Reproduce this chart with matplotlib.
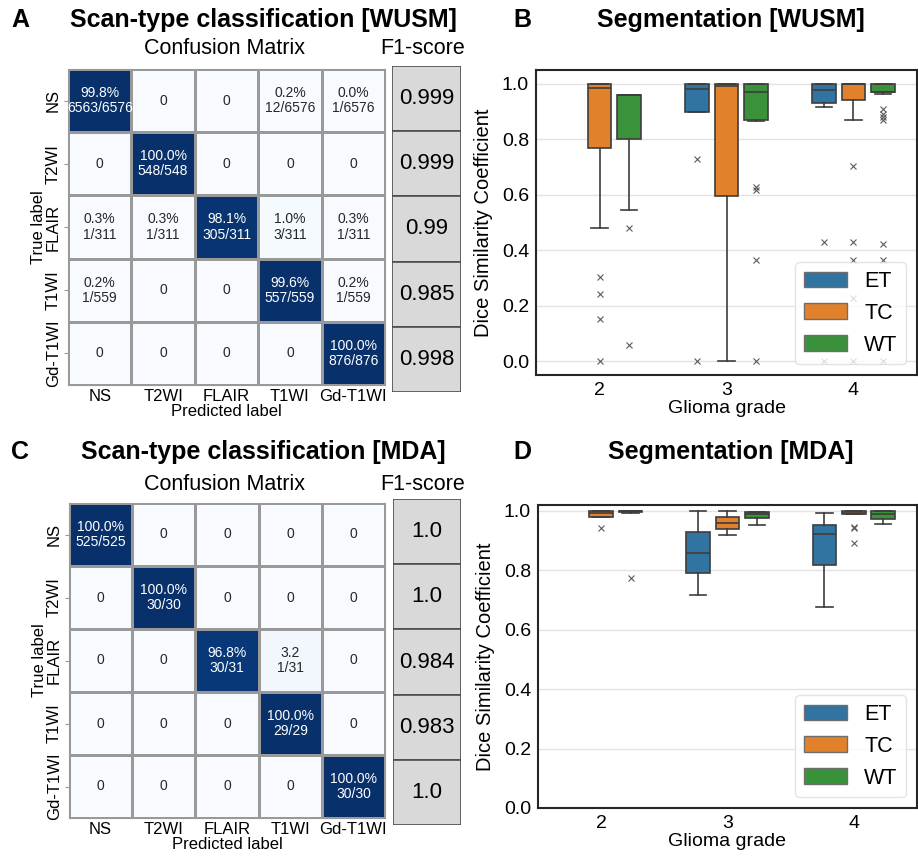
import numpy as np
import matplotlib
matplotlib.use("Agg")
import matplotlib.pyplot as plt
from matplotlib.patches import Patch, Rectangle

plt.rcParams['font.family'] = ['Liberation Sans', 'DejaVu Sans']

# ---- data ----
scan_types = ['NS', 'T2WI', 'FLAIR', 'T1WI', 'Gd-T1WI']

wusm_counts = [[6563, 0, 0, 12, 1],
               [0, 548, 0, 0, 0],
               [1, 1, 305, 3, 1],
               [1, 0, 0, 557, 1],
               [0, 0, 0, 0, 876]]
wusm_f1 = ['0.999', '0.999', '0.99', '0.985', '0.998']

mda_counts = [[525, 0, 0, 0, 0],
              [0, 30, 0, 0, 0],
              [0, 0, 30, 1, 0],
              [0, 0, 0, 29, 0],
              [0, 0, 0, 0, 30]]
mda_f1 = ['1.0', '1.0', '0.984', '0.983', '1.0']
mda_label_override = {(2, 3): '3.2\n1/31'}

grades = ['2', '3', '4']
regions = ['ET', 'TC', 'WT']
region_colors = ['#3274a1', '#e1812c', '#3a923a']

# box stats, rows = grade, cols = ET/TC/WT (None = no data)
wusm_med = [[None, 0.986, 0.960], [0.983, 0.992, 0.971], [0.978, 1.0, 0.972]]
wusm_q1 = [[None, 0.768, 0.802], [0.900, 0.594, 0.870], [0.930, 0.942, 0.969]]
wusm_q3 = [[None, 1.0, 0.960], [1.0, 1.0, 1.0], [1.0, 1.0, 1.0]]
wusm_lo = [[None, 0.481, 0.545], [0.900, 0.0, 0.866], [0.917, 0.868, 0.962]]
wusm_hi = [[None, 1.0, 0.960], [1.0, 1.0, 1.0], [1.0, 1.0, 1.0]]
wusm_fliers = [[[], [0.303, 0.242, 0.151, 0.0], [0.480, 0.059]],
               [[0.730, 0.0], [], [0.627, 0.618, 0.366, 0.0]],
               [[0.430, 0.0], [0.705, 0.430, 0.365, 0.226, 0.0],
                [0.909, 0.892, 0.880, 0.868, 0.423, 0.365, 0.0]]]

mda_med = [[None, 0.993, 1.0], [0.860, 0.961, 0.990], [0.924, 0.993, 0.991]]
mda_q1 = [[None, 0.980, 0.998], [0.790, 0.940, 0.975], [0.819, 0.989, 0.974]]
mda_q3 = [[None, 1.0, 1.0], [0.929, 0.980, 0.998], [0.951, 0.999, 0.999]]
mda_lo = [[None, 0.980, 0.993], [0.718, 0.918, 0.954], [0.675, 0.989, 0.957]]
mda_hi = [[None, 1.0, 1.0], [0.999, 0.999, 0.998], [0.994, 0.999, 0.999]]
mda_fliers = [[[], [0.943], [0.775]],
              [[], [], []],
              [[], [0.946, 0.943, 0.893], []]]


def draw_matrix(ax, counts, override=None):
    counts = np.array(counts, dtype=float)
    rows = counts.sum(axis=1, keepdims=True)
    frac = counts / rows
    ax.pcolormesh(frac, cmap='Blues', vmin=0, vmax=1,
                  edgecolors='#999999', linewidth=0.8)
    ax.set_xlim(0, 5)
    ax.set_ylim(5, 0)
    for i in range(5):
        for j in range(5):
            c = counts[i, j]
            if override and (i, j) in override:
                txt = override[(i, j)]
            elif c == 0:
                txt = '0'
            else:
                txt = '%.1f%%\n%d/%d' % (frac[i, j] * 100, c, rows[i, 0])
            col = 'white' if frac[i, j] > 0.5 else '#262626'
            ax.text(j + 0.5, i + 0.5, txt, ha='center', va='center',
                    fontsize=10, color=col, linespacing=1.1)
    ax.set_xticks(np.arange(5) + 0.5, scan_types, fontsize=12)
    ax.set_yticks(np.arange(5) + 0.5, scan_types, fontsize=12,
                  rotation=90, va='center')
    ax.tick_params(axis='x', length=0, pad=3)
    ax.tick_params(axis='y', length=3, pad=2, color='#999999')
    ax.set_xlabel('Predicted label', fontsize=12, labelpad=0)
    ax.set_ylabel('True label', fontsize=12, labelpad=0)
    for s in ax.spines.values():
        s.set_color('#999999')
        s.set_linewidth(0.8)


def draw_f1(ax, scores):
    ax.set_xlim(0, 1)
    ax.set_ylim(5, 0)
    for i, s in enumerate(scores):
        ax.add_patch(Rectangle((0, i), 1, 1, facecolor='#d9d9d9',
                               edgecolor='#4d4d4d', linewidth=1.2))
        ax.text(0.5, i + 0.5, s, ha='center', va='center', fontsize=16)
    ax.axis('off')


def draw_boxes(ax, med, q1, q3, lo, hi, fliers, ylim):
    offsets = [-0.233, 0.0, 0.233]
    edge = '#3d3d3d'
    for g in range(3):
        for r in range(3):
            if med[g][r] is None:
                continue
            st = [dict(med=med[g][r], q1=q1[g][r], q3=q3[g][r],
                       whislo=lo[g][r], whishi=hi[g][r], fliers=fliers[g][r])]
            ax.bxp(st, positions=[g + offsets[r]], widths=0.187, capwidths=0.13,
                   patch_artist=True, manage_ticks=False,
                   boxprops=dict(facecolor=region_colors[r], edgecolor=edge, linewidth=1.2),
                   medianprops=dict(color=edge, linewidth=1.2),
                   whiskerprops=dict(color=edge, linewidth=1.2),
                   capprops=dict(color=edge, linewidth=1.2),
                   flierprops=dict(marker='x', markersize=4, markeredgecolor='#5a5a5a',
                                   markeredgewidth=0.8, linestyle='none'))
    ax.set_xlim(-0.5, 2.5)
    ax.set_ylim(*ylim)
    ax.set_xticks([0, 1, 2], grades)
    ax.set_yticks(np.arange(0, 1.01, 0.2))
    ax.set_yticklabels(['%.1f' % v for v in np.arange(0, 1.01, 0.2)])
    ax.tick_params(labelsize=14, length=0, pad=5)
    ax.yaxis.grid(True, color='#e3e3e3', linewidth=1)
    ax.set_axisbelow(True)
    ax.set_xlabel('Glioma grade', fontsize=14, labelpad=1)
    ax.set_ylabel('Dice Similarity Coefficient', fontsize=14.5, labelpad=6)
    for s in ax.spines.values():
        s.set_color('#262626')
        s.set_linewidth(1.5)
    handles = [Patch(facecolor=c, edgecolor='#6e6e6e', label=l)
               for c, l in zip(region_colors, regions)]
    ax.legend(handles=handles, loc='lower right', fontsize=15.5, framealpha=0.8,
              edgecolor='#dddddd', handlelength=2.0, handleheight=0.75,
              borderaxespad=0.5)


fig = plt.figure(figsize=(9.18, 8.59), dpi=100)
W, H = 918.0, 859.0


def box(x0, y0, x1, y1):
    return [x0 / W, 1 - y1 / H, (x1 - x0) / W, (y1 - y0) / H]


ax_a = fig.add_axes(box(68, 69, 385, 385))
draw_matrix(ax_a, wusm_counts)
ax_af = fig.add_axes(box(392, 66, 461, 392))
draw_f1(ax_af, wusm_f1)

ax_c = fig.add_axes(box(69, 503, 385, 818))
draw_matrix(ax_c, mda_counts, mda_label_override)
ax_cf = fig.add_axes(box(393, 499, 461, 825))
draw_f1(ax_cf, mda_f1)

ax_b = fig.add_axes(box(536, 70, 917, 375))
draw_boxes(ax_b, wusm_med, wusm_q1, wusm_q3, wusm_lo, wusm_hi, wusm_fliers, (-0.05, 1.05))

ax_d = fig.add_axes(box(538, 505, 917, 808))
draw_boxes(ax_d, mda_med, mda_q1, mda_q3, mda_lo, mda_hi, mda_fliers, (0.0, 1.02))

# titles and panel letters
def ftext(x, y, s, **kw):
    fig.text(x / W, 1 - y / H, s, ha='center', va='center', **kw)

ftext(20, 20, 'A', fontsize=18, fontweight='bold')
ftext(263, 20, 'Scan-type classification [WUSM]', fontsize=18, fontweight='bold')
ftext(522, 20, 'B', fontsize=18, fontweight='bold')
ftext(731, 20, 'Segmentation [WUSM]', fontsize=18, fontweight='bold')
ftext(224, 49, 'Confusion Matrix', fontsize=15.5)
ftext(423, 49, 'F1-score', fontsize=15.5)

ftext(20, 452, 'C', fontsize=18, fontweight='bold')
ftext(263, 452, 'Scan-type classification [MDA]', fontsize=18, fontweight='bold')
ftext(522, 452, 'D', fontsize=18, fontweight='bold')
ftext(731, 452, 'Segmentation [MDA]', fontsize=18, fontweight='bold')
ftext(224, 484, 'Confusion Matrix', fontsize=15.5)
ftext(423, 484, 'F1-score', fontsize=15.5)

fig.savefig('out.png', dpi=100)
